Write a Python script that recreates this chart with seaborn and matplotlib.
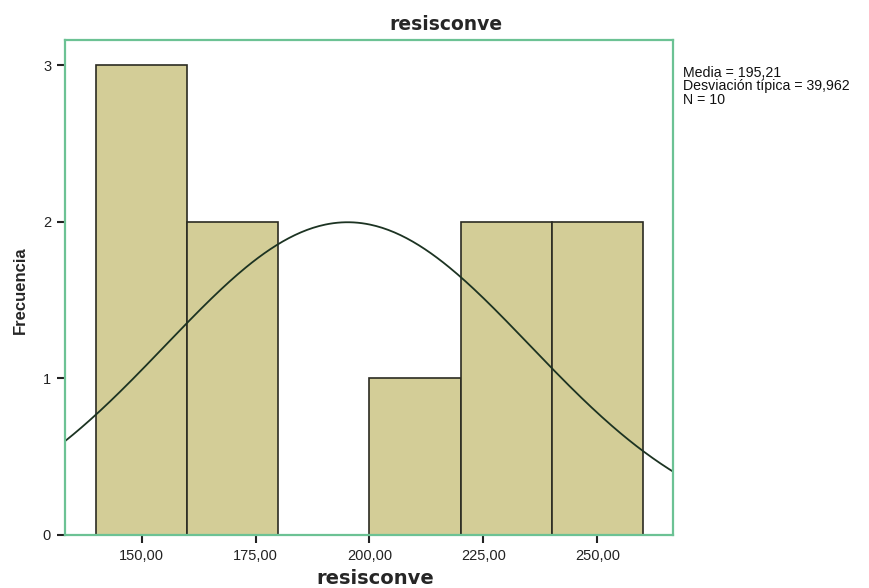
import numpy as np
import matplotlib
matplotlib.use('Agg')
import matplotlib.pyplot as plt
import seaborn as sns

# datos del histograma (resisconve)
bin_edges = [140, 160, 180, 200, 220, 240, 260]
bin_counts = [3, 2, 0, 1, 2, 2]
media = 195.21
desv = 39.962
n = 10
x_ticks = [150, 175, 200, 225, 250]
x_tick_labels = ['150,00', '175,00', '200,00', '225,00', '250,00']
y_ticks = [0, 1, 2, 3]

sns.set_style('white')
plt.rcParams['font.family'] = ['Liberation Sans', 'DejaVu Sans']

fig = plt.figure(figsize=(8.69, 5.88), dpi=100)
ax = fig.add_axes([65 / 869, 1 - 535 / 588, (673 - 65) / 869, (535 - 40) / 588])

centros = [(a + b) / 2 for a, b in zip(bin_edges[:-1], bin_edges[1:])]
sns.histplot(x=centros, weights=bin_counts, bins=bin_edges, ax=ax,
             color='#d3cd97', edgecolor='#2b2b22', linewidth=1.2, alpha=1)

## curva normal escalada a N * ancho de clase
ancho = bin_edges[1] - bin_edges[0]
xs = np.linspace(133.2, 266.6, 300)
ys = n * ancho / (desv * np.sqrt(2 * np.pi)) * np.exp(-0.5 * ((xs - media) / desv) ** 2)
sns.lineplot(x=xs, y=ys, ax=ax, color='#1c3322', linewidth=1.3)

ax.set_xlim(133.2, 266.6)
ax.set_ylim(0, 3.16)
ax.set_xticks(x_ticks)
ax.set_xticklabels(x_tick_labels)
ax.set_yticks(y_ticks)
ax.tick_params(axis='both', direction='out', length=6, width=1.5, color='#222222',
               labelsize=10.5, labelcolor='#222222', bottom=True, left=True, pad=4)

for s in ax.spines.values():
    s.set_color('#6cc294')
    s.set_linewidth(1.6)

ax.set_xlabel('')
ax.set_ylabel('')
fig.text(446 / 869, 1 - 25 / 588, 'resisconve', fontsize=13.5, fontweight='bold',
         ha='center', va='center', fontfamily='DejaVu Sans')
fig.text(375 / 869, 1 - 578 / 588, 'resisconve', fontsize=14, fontweight='bold',
         ha='center', va='center', fontfamily='DejaVu Sans')
fig.text(20 / 869, 1 - 290 / 588, 'Frecuencia', fontsize=12, fontweight='bold',
         ha='center', va='center', rotation=90)

fig.text(683 / 869, 1 - 66 / 588,
         'Media = 195,21\nDesviación típica = 39,962\nN = 10',
         fontsize=10.2, va='top', ha='left', linespacing=0.95, color='#111111')

fig.savefig('out.png', dpi=100)
